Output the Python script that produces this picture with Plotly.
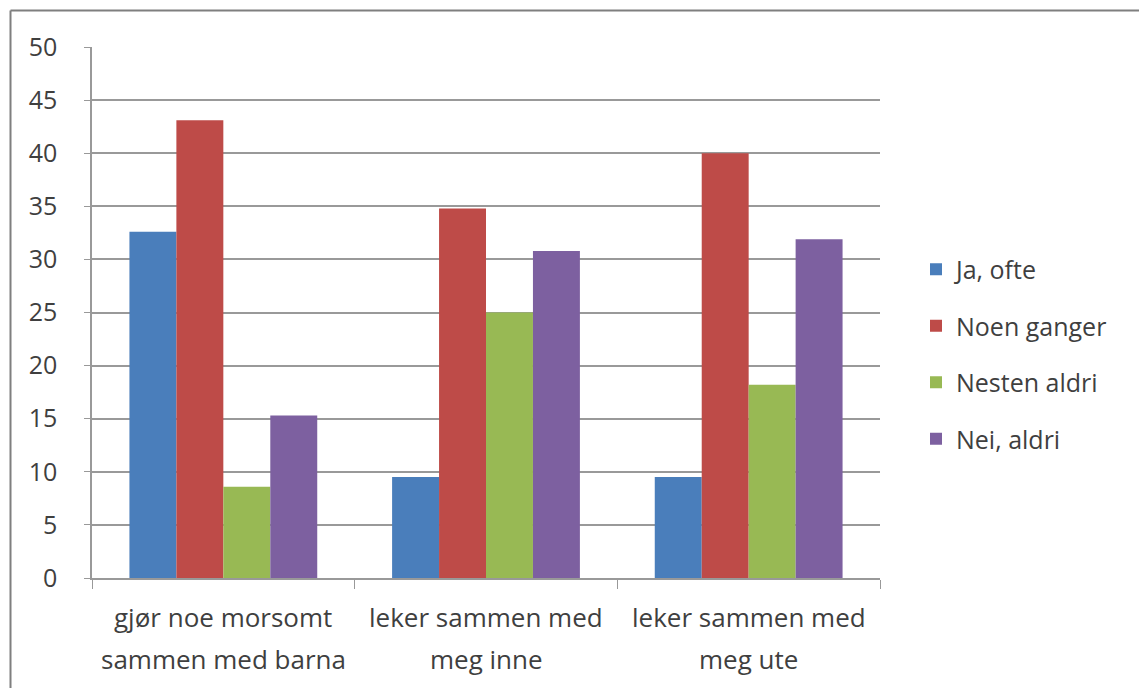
import plotly.graph_objects as go

categories = ["gjør noe morsomt\nsammen med barna",
              "leker sammen med\nmeg inne",
              "leker sammen med\nmeg ute"]
series_names = ["Ja, ofte", "Noen ganger", "Nesten aldri", "Nei, aldri"]
ja_ofte = [32.6, 9.5, 9.5]
noen_ganger = [43.1, 34.8, 40.0]
nesten_aldri = [8.6, 25.0, 18.2]
nei_aldri = [15.3, 30.8, 31.9]
y_ticks = [0, 5, 10, 15, 20, 25, 30, 35, 40, 45, 50]

colors = ["#4a7ebb", "#be4b48", "#98b954", "#7d60a0"]
values = [ja_ofte, noen_ganger, nesten_aldri, nei_aldri]

W, H = 1139, 688
L, R, T, B = 92, 259, 47, 110
PW, PH = W - L - R, H - T - B

FONT = "Open Sans, Lato, sans-serif"
TXT = "#3f3f3f"
GRID = "#999999"

fig = go.Figure()
for i, (name, vals, col) in enumerate(zip(series_names, values, colors)):
    fig.add_trace(go.Bar(x=categories, y=vals, name=name, legendgroup=str(i),
                         marker=dict(color=col, line=dict(width=0))))


def paper_y(py):
    return (H - B - py) / PH


def paper_x(px):
    return (px - L) / PW


# two-line category labels under each group
for cat in categories:
    for line, py in zip(cat.split("\n"), (617, 659)):
        fig.add_annotation(x=cat, xref="x", y=paper_y(py), yref="paper",
                           text=line, showarrow=False, xanchor="center",
                           yanchor="middle",
                           font=dict(size=26, family=FONT, color=TXT))

# outer chart frame (top and left edges visible)
fx, fy = paper_x(10.5), paper_y(10.5)
frame = dict(type="line", xref="paper", yref="paper",
             line=dict(color="#7f7f7f", width=2))
fig.add_shape(**frame, x0=fx, y0=fy, x1=2.0, y1=fy)
fig.add_shape(**frame, x0=fx, y0=fy, x1=fx, y1=-1.0)

fig.update_layout(
    width=W, height=H,
    margin=dict(l=L, r=R, t=T, b=B),
    paper_bgcolor="white", plot_bgcolor="white",
    barmode="group", bargap=0.285, bargroupgap=0,
    font=dict(family=FONT, color=TXT),
    showlegend=True,
    legend=dict(x=paper_x(916), y=paper_y(354), xref="paper", yref="paper",
                xanchor="left", yanchor="middle", bgcolor="rgba(0,0,0,0)",
                font=dict(size=25, color=TXT, family=FONT),
                tracegroupgap=21, itemsizing="constant"),
    xaxis=dict(showline=True, linecolor=GRID, linewidth=1.5,
               ticks="outside", tickson="boundaries", ticklen=9,
               tickcolor=GRID, showticklabels=False, showgrid=False),
    yaxis=dict(range=[0, 50], tickvals=y_ticks, showline=True,
               linecolor=GRID, linewidth=1.5, ticks="outside", ticklen=6,
               tickcolor=GRID, showgrid=True, gridcolor=GRID,
               gridwidth=1.5, ticklabelstandoff=22,
               tickfont=dict(size=25, color=TXT, family=FONT),
               zeroline=False),
)

fig.write_html("out.html")
